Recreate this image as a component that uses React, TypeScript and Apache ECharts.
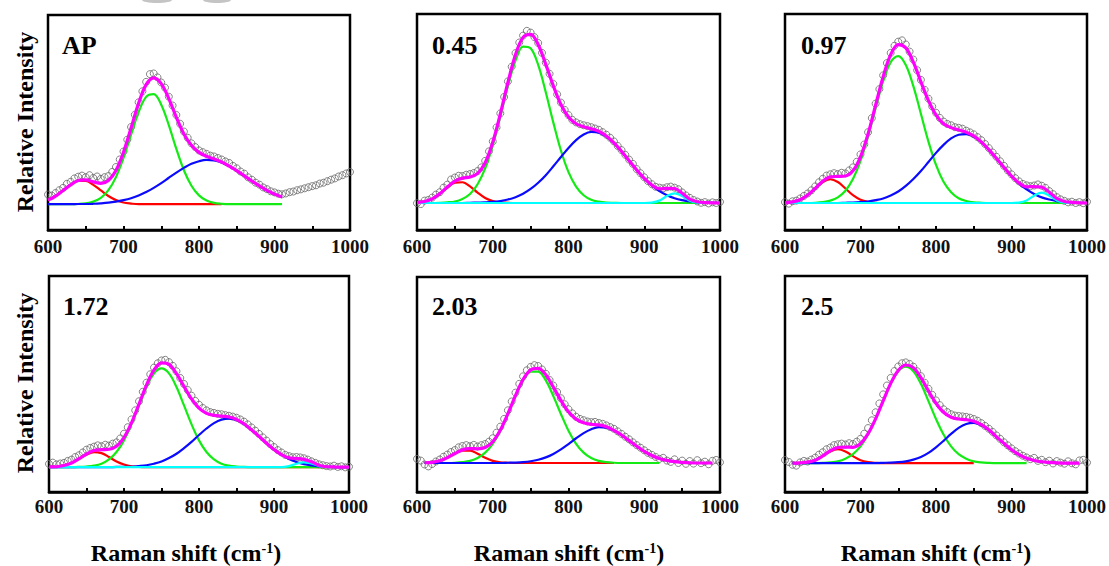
import React, { useEffect, useRef } from 'react';
import * as echarts from 'echarts';

const FONT = '"Liberation Serif", "Times New Roman", serif';

// sampling grids (cm-1)
const shift10 = Array.from({ length: 41 }, (_, i) => 600 + i * 10);
const shift5 = Array.from({ length: 81 }, (_, i) => 600 + i * 5);

const panelLabels = ['AP', '0.45', '0.97', '1.72', '2.03', '2.5'];
const xAxisTitle = 'Raman shift (cm';
const yAxisTitle = 'Relative Intensity';

// ---------- AP ----------
const apData = [
  16.5, 16.0, 17.2, 18.5, 19.6, 21.5, 22.4, 24.0, 24.8, 25.3,
  24.6, 25.5, 24.2, 24.9, 23.8, 24.6, 25.1, 27.0, 29.3, 32.8,
  36.5, 42.0, 47.9, 53.6, 59.4, 64.5, 68.9, 72.5, 72.8, 71.0,
  68.6, 66.2, 62.0, 57.9, 53.5, 49.4, 45.8, 42.9, 40.3, 38.6,
  37.0, 36.2, 35.4, 34.6, 34.2, 33.5, 32.8, 31.9, 31.2, 29.8,
  28.7, 27.2, 26.2, 24.5, 23.4, 22.0, 21.1, 19.8, 19.0, 18.0,
  17.5, 16.9, 16.6, 17.0, 17.6, 17.9, 18.5, 18.9, 19.4, 19.9,
  20.4, 20.8, 21.6, 22.0, 22.7, 23.4, 24.0, 24.9, 25.5, 26.3,
  27.0,
];
const apRed = [
  13.9, 15.8, 18.4, 21.0, 22.8, 22.8, 21.0, 18.4, 15.8, 13.9,
  12.8, 12.3, 12.0, 12.0, 12.0, 12.0, 12.0, 12.0, 12.0, 12.0,
  12.0, 12.0, 12.0, 12.0, null, null, null, null, null, null,
  null, null, null, null, null, null, null, null, null, null, null,
];
const apGreen = [
  12.0, 12.0, 12.0, 12.0, 12.1, 12.4, 13.2, 14.9, 18.5, 24.6,
  33.5, 44.3, 54.8, 61.9, 63.2, 58.3, 48.8, 37.7, 27.8, 20.6,
  16.1, 13.7, 12.6, 12.2, 12.0, 12.0, 12.0, 12.0, 12.0, 12.0,
  12.0, 12.0, null, null, null, null, null, null, null, null, null,
];
const apBlue = [
  12.0, 12.0, 12.0, 12.0, 12.1, 12.1, 12.2, 12.4, 12.7, 13.2,
  13.9, 14.8, 16.0, 17.7, 19.6, 21.8, 24.3, 26.7, 28.9, 30.8,
  32.0, 32.6, 32.4, 31.4, 29.7, 27.6, 25.2, 22.8, 20.5, 18.4,
  16.7, 15.3, null, null, null, null, null, null, null, null, null,
];
const apFit = [
  13.9, 15.8, 18.4, 21.0, 23.0, 23.3, 22.4, 21.7, 23.0, 27.7,
  36.2, 47.4, 58.9, 67.6, 70.8, 68.1, 61.1, 52.4, 44.7, 39.4,
  36.1, 34.3, 33.0, 31.6, 29.7, 27.6, 25.2, 22.8, 20.5, 18.4,
  16.7, 15.3, null, null, null, null, null, null, null, null, null,
];

// ---------- 0.45 ----------
const s045Data = [
  12.4, 12.0, 13.6, 13.9, 15.0, 16.4, 17.5, 19.6, 21.0, 23.4,
  24.3, 25.1, 25.0, 25.6, 25.9, 26.4, 27.3, 29.0, 32.0, 36.4,
  41.0, 47.5, 54.0, 61.6, 68.8, 75.6, 81.9, 86.8, 90.0, 92.2,
  91.4, 89.3, 86.6, 82.0, 77.5, 72.3, 67.6, 62.8, 59.0, 55.6,
  53.2, 51.0, 49.8, 49.0, 48.5, 48.1, 47.6, 47.0, 46.4, 45.3,
  44.1, 42.7, 41.0, 38.9, 37.0, 34.8, 32.6, 30.6, 28.2, 26.3,
  24.4, 22.6, 21.2, 20.0, 19.6, 19.3, 19.8, 20.1, 19.6, 18.9,
  17.4, 16.0, 14.9, 13.9, 13.2, 12.6, 12.9, 12.3, 12.8, 12.5,
  13.0,
];
const s045Red = [
  12.7, 13.2, 14.4, 16.7, 19.6, 21.9, 22.1, 20.2, 17.3, 14.8,
  13.4, 12.8, 12.6, 12.5, 12.5, 12.5, 12.5, 12.5, 12.5, 12.5,
  12.5, 12.5, 12.5, 12.5, 12.5, 12.5, 12.5, 12.5, 12.5, 12.5,
  12.5, 12.5, 12.5, 12.5, 12.5, 12.5, 12.5, 12.5, 12.5, 12.5, 12.5,
];
const s045Green = [
  12.5, 12.5, 12.5, 12.6, 12.8, 13.2, 14.4, 16.7, 21.2, 28.5,
  39.2, 52.5, 66.6, 78.4, 84.9, 84.1, 76.4, 63.8, 49.7, 36.8,
  26.8, 20.1, 16.1, 14.0, 13.1, 12.7, 12.6, 12.5, 12.5, 12.5,
  12.5, 12.5, 12.5, 12.5, 12.5, 12.5, 12.5, 12.5, 12.5, 12.5, 12.5,
];
const s045Blue = [
  12.5, 12.5, 12.5, 12.5, 12.5, 12.5, 12.5, 12.6, 12.7, 12.8,
  13.0, 13.4, 14.1, 15.2, 16.8, 19.0, 21.9, 25.4, 29.5, 33.8,
  38.0, 41.6, 44.2, 45.4, 45.1, 43.3, 40.3, 36.4, 32.1, 27.8,
  23.9, 20.6, 18.0, 16.1, 14.7, 13.8, 13.2, 12.9, 12.7, 12.6, 12.5,
];
const s045Cyan = [
  12.5, 12.5, 12.5, 12.5, 12.5, 12.5, 12.5, 12.5, 12.5, 12.5,
  12.5, 12.5, 12.5, 12.5, 12.5, 12.5, 12.5, 12.5, 12.5, 12.5,
  12.5, 12.5, 12.5, 12.5, 12.5, 12.5, 12.5, 12.5, 12.5, 12.5,
  12.5, 12.7, 13.6, 15.7, 17.0, 15.7, 13.6, 12.7, 12.5, 12.5, 12.5,
];
const s045Fit = [
  12.7, 13.2, 14.4, 16.8, 19.9, 22.6, 24.0, 24.5, 26.2, 31.1,
  40.6, 53.7, 68.3, 81.1, 89.2, 90.6, 85.8, 76.7, 66.7, 58.1,
  52.3, 49.2, 47.8, 46.9, 45.7, 43.5, 40.3, 36.4, 32.1, 27.8,
  23.9, 20.8, 19.1, 19.3, 19.2, 17.0, 14.3, 13.1, 12.7, 12.6, 12.5,
];

// ---------- 0.97 ----------
const s097Data = [
  12.9, 12.2, 13.3, 13.6, 14.6, 15.8, 16.9, 18.4, 20.2, 22.1,
  23.7, 25.2, 25.8, 26.3, 25.9, 26.5, 26.2, 27.6, 29.0, 31.6,
  35.0, 39.6, 45.3, 51.8, 58.5, 65.2, 71.6, 77.3, 82.0, 85.3,
  87.2, 87.8, 85.9, 82.6, 78.9, 74.0, 69.5, 64.9, 60.8, 57.2,
  54.3, 51.9, 50.2, 49.1, 48.5, 47.6, 47.3, 46.9, 46.0, 45.2,
  44.3, 43.0, 41.6, 39.8, 37.9, 35.9, 33.9, 31.8, 29.7, 27.6,
  25.8, 24.0, 22.5, 21.3, 20.7, 20.3, 20.6, 21.1, 20.5, 19.5,
  18.0, 16.6, 15.2, 14.2, 13.5, 12.8, 13.1, 12.5, 12.9, 12.4,
  13.1,
];
const s097Red = [
  12.6, 13.0, 14.0, 16.1, 19.2, 22.2, 23.5, 22.2, 19.2, 16.1,
  14.0, 13.0, 12.6, 12.5, 12.5, 12.5, 12.5, 12.5, 12.5, 12.5,
  12.5, 12.5, 12.5, 12.5, 12.5, 12.5, 12.5, 12.5, 12.5, 12.5,
  12.5, 12.5, 12.5, 12.5, 12.5, 12.5, 12.5, 12.5, 12.5, 12.5, 12.5,
];
const s097Green = [
  12.5, 12.5, 12.5, 12.5, 12.6, 12.9, 13.6, 15.1, 18.2, 23.6,
  32.0, 43.3, 56.4, 68.9, 77.7, 80.5, 76.4, 66.6, 53.8, 40.9,
  30.1, 22.3, 17.5, 14.7, 13.4, 12.8, 12.6, 12.5, 12.5, 12.5,
  12.5, 12.5, 12.5, 12.5, 12.5, 12.5, 12.5, 12.5, 12.5, 12.5, 12.5,
];
const s097Blue = [
  12.5, 12.5, 12.5, 12.5, 12.5, 12.5, 12.5, 12.5, 12.6, 12.7,
  12.9, 13.2, 13.8, 14.6, 16.0, 17.8, 20.4, 23.6, 27.3, 31.5,
  35.7, 39.4, 42.4, 44.1, 44.4, 43.3, 40.7, 37.2, 33.2, 29.0,
  25.0, 21.6, 18.8, 16.7, 15.1, 14.1, 13.4, 13.0, 12.8, 12.6, 12.5,
];
const s097Cyan = [
  12.5, 12.5, 12.5, 12.5, 12.5, 12.5, 12.5, 12.5, 12.5, 12.5,
  12.5, 12.5, 12.5, 12.5, 12.5, 12.5, 12.5, 12.5, 12.5, 12.5,
  12.5, 12.5, 12.5, 12.5, 12.5, 12.5, 12.5, 12.5, 12.5, 12.5,
  12.5, 12.7, 13.7, 15.9, 17.3, 15.9, 13.7, 12.7, 12.5, 12.5, 12.5,
];
const s097Fit = [
  12.6, 13.0, 14.0, 16.2, 19.3, 22.6, 24.6, 24.8, 25.0, 27.4,
  33.9, 44.5, 57.8, 71.0, 81.2, 85.8, 84.3, 77.7, 68.6, 59.9,
  53.3, 49.2, 47.4, 46.3, 45.3, 43.6, 40.8, 37.2, 33.2, 29.0,
  25.0, 21.8, 20.0, 20.1, 19.9, 17.5, 14.6, 13.2, 12.8, 12.6, 12.5,
];

// ---------- 1.72 ----------
const s172Data = [
  13.0, 13.6, 12.8, 13.2, 13.5, 14.4, 15.0, 16.2, 17.0, 18.3,
  19.6, 20.4, 21.0, 21.6, 21.2, 21.9, 21.5, 22.4, 23.0, 24.8,
  27.0, 30.0, 33.6, 37.8, 42.0, 46.4, 50.6, 54.5, 57.6, 59.6,
  60.9, 61.2, 60.1, 58.4, 55.9, 52.8, 50.0, 47.2, 44.6, 42.2,
  40.4, 38.9, 37.8, 37.0, 36.6, 36.2, 36.0, 35.6, 35.3, 34.9,
  34.4, 33.6, 32.6, 31.3, 29.9, 28.4, 26.9, 25.3, 23.8, 22.2,
  20.8, 19.4, 18.3, 17.2, 16.6, 16.1, 16.2, 16.0, 15.6, 15.0,
  14.2, 13.5, 12.8, 12.4, 12.0, 11.8, 12.2, 11.6, 11.9, 11.4,
  11.7,
];
const s172Red = [
  11.6, 11.7, 12.3, 13.4, 15.3, 17.3, 18.5, 18.0, 16.2, 14.1,
  12.7, 11.9, 11.6, 11.5, 11.5, 11.5, 11.5, 11.5, 11.5, 11.5,
  11.5, 11.5, 11.5, 11.5, 11.5, 11.5, 11.5, 11.5, 11.5, 11.5,
  11.5, 11.5, 11.5, 11.5, 11.5, 11.5, 11.5, 11.5, 11.5, 11.5, 11.5,
];
const s172Green = [
  11.5, 11.5, 11.5, 11.5, 11.6, 11.8, 12.2, 13.1, 15.1, 18.5,
  23.9, 31.4, 40.1, 48.6, 54.9, 57.2, 54.9, 48.6, 40.1, 31.4,
  23.9, 18.5, 15.1, 13.1, 12.2, 11.8, 11.6, 11.5, 11.5, 11.5,
  11.5, 11.5, 11.5, 11.5, 11.5, 11.5, 11.5, 11.5, 11.5, 11.5, 11.5,
];
const s172Blue = [
  11.5, 11.5, 11.5, 11.5, 11.5, 11.5, 11.5, 11.5, 11.5, 11.6,
  11.6, 11.7, 12.0, 12.4, 13.1, 14.1, 15.7, 17.7, 20.3, 23.2,
  26.4, 29.4, 31.9, 33.5, 34.0, 33.3, 31.5, 28.8, 25.8, 22.6,
  19.7, 17.3, 15.3, 13.9, 12.9, 12.3, 11.9, 11.7, 11.6, 11.5, 11.5,
];
const s172Cyan = [
  11.5, 11.5, 11.5, 11.5, 11.5, 11.5, 11.5, 11.5, 11.5, 11.5,
  11.5, 11.5, 11.5, 11.5, 11.5, 11.5, 11.5, 11.5, 11.5, 11.5,
  11.5, 11.5, 11.5, 11.5, 11.5, 11.5, 11.5, 11.5, 11.5, 11.5,
  11.5, 11.5, 12.0, 13.1, 13.7, 13.2, 12.0, 11.5, 11.5, 11.5, 11.5,
];
const s172Fit = [
  11.6, 11.7, 12.3, 13.4, 15.4, 17.6, 19.2, 19.6, 19.8, 21.2,
  25.2, 32.0, 40.7, 49.5, 56.5, 59.8, 59.1, 54.8, 48.9, 43.1,
  38.8, 36.4, 35.5, 35.1, 34.7, 33.6, 31.6, 28.8, 25.8, 22.6,
  19.7, 17.3, 15.8, 15.5, 15.1, 14.0, 12.4, 11.7, 11.6, 11.5, 11.5,
];

// ---------- 2.03 ----------
const s203Data = [
  15.4, 14.6, 12.8, 11.9, 13.0, 14.2, 15.1, 16.4, 17.4, 18.6,
  19.5, 20.8, 21.4, 21.8, 21.3, 21.9, 21.2, 21.8, 22.3, 23.4,
  25.0, 27.6, 30.4, 34.0, 38.0, 42.1, 46.2, 50.3, 53.8, 56.6,
  58.2, 59.0, 58.6, 57.0, 55.0, 52.1, 49.5, 46.5, 43.6, 40.8,
  38.5, 36.6, 35.0, 34.0, 33.4, 32.8, 32.5, 32.6, 32.1, 31.7,
  31.0, 30.2, 29.4, 28.2, 27.0, 25.7, 24.5, 23.1, 21.8, 20.6,
  19.4, 18.2, 17.3, 16.3, 15.4, 15.9, 14.6, 14.0, 15.2, 13.5,
  14.6, 13.1, 14.4, 13.2, 14.8, 13.4, 14.1, 12.9, 14.5, 14.9,
  13.8,
];
const s203Red = [
  null, 13.5, 13.8, 14.5, 15.9, 17.8, 19.2, 19.2, 17.8, 15.9,
  14.5, 13.8, 13.6, 13.5, 13.5, 13.5, 13.5, 13.5, 13.5, 13.5,
  13.5, 13.5, 13.5, 13.5, 13.5, 13.5, 13.5, null, null, null,
  null, null, null, null, null, null, null, null, null, null, null,
];
const s203Green = [
  null, 13.5, 13.5, 13.5, 13.5, 13.6, 13.9, 14.5, 15.8, 18.3,
  22.4, 28.5, 36.3, 44.6, 51.9, 56.0, 56.0, 51.9, 44.6, 36.3,
  28.5, 22.4, 18.3, 15.8, 14.5, 13.9, 13.6, 13.5, 13.5, 13.5,
  13.5, 13.5, 13.5, null, null, null, null, null, null, null, null,
];
const s203Blue = [
  null, 13.5, 13.5, 13.5, 13.5, 13.5, 13.5, 13.5, 13.5, 13.5,
  13.5, 13.5, 13.6, 13.7, 13.9, 14.3, 15.0, 16.1, 17.7, 19.8,
  22.3, 25.0, 27.4, 29.2, 30.2, 29.9, 28.6, 26.5, 23.9, 21.3,
  18.9, 17.0, 15.6, 14.7, 14.1, 13.8, 13.6, null, null, null, null,
];
const s203Fit = [
  null, 13.6, 13.8, 14.5, 16.0, 17.9, 19.6, 20.2, 20.1, 20.7,
  23.4, 28.8, 36.5, 44.8, 52.3, 56.8, 57.5, 54.5, 48.8, 42.6,
  37.3, 33.9, 32.2, 31.5, 31.2, 30.3, 28.7, 26.5, 23.9, 21.3,
  18.9, 17.0, 15.6, 14.7, 14.1, 13.8, 13.6, 13.5, 13.5, 13.5, null,
];

// ---------- 2.5 ----------
const s25Data = [
  14.8, 13.9, 12.6, 12.2, 13.7, 14.4, 14.1, 15.0, 15.9, 17.3,
  18.4, 19.8, 20.6, 21.7, 22.1, 22.4, 22.0, 22.6, 22.2, 23.3,
  24.6, 27.0, 29.6, 33.2, 36.9, 41.0, 45.2, 49.3, 52.8, 56.0,
  58.1, 59.6, 60.0, 59.3, 58.0, 55.9, 53.6, 50.6, 47.8, 45.0,
  42.4, 40.2, 38.3, 37.0, 36.0, 35.4, 35.2, 35.0, 34.8, 34.4,
  33.8, 33.0, 31.9, 30.6, 29.3, 27.8, 26.2, 24.6, 23.0, 21.6,
  20.2, 18.9, 17.8, 16.8, 16.0, 15.2, 15.8, 14.4, 14.9, 13.8,
  14.5, 13.2, 14.3, 13.6, 13.1, 14.2, 13.3, 12.8, 14.6, 14.9,
  13.6,
];
const s25Red = [
  null, 13.4, 13.5, 13.8, 14.7, 16.6, 18.8, 19.8, 18.8, 16.6,
  14.7, 13.8, 13.5, 13.4, 13.4, 13.4, 13.4, 13.4, 13.4, 13.4,
  13.4, 13.4, 13.4, 13.4, 13.4, 13.4, null, null, null, null,
  null, null, null, null, null, null, null, null, null, null, null,
];
const s25Green = [
  null, 13.4, 13.4, 13.4, 13.4, 13.5, 13.7, 14.2, 15.4, 17.5,
  21.1, 26.6, 33.8, 42.1, 50.1, 55.9, 58.0, 55.9, 50.1, 42.1,
  33.8, 26.6, 21.1, 17.5, 15.4, 14.2, 13.7, 13.5, 13.4, 13.4,
  13.4, 13.4, 13.4, null, null, null, null, null, null, null, null,
];
const s25Blue = [
  null, 13.4, 13.4, 13.4, 13.4, 13.4, 13.4, 13.4, 13.4, 13.4,
  13.4, 13.4, 13.4, 13.5, 13.6, 13.8, 14.2, 15.0, 16.2, 18.1,
  20.7, 23.7, 26.9, 29.7, 31.5, 32.0, 30.9, 28.7, 25.6, 22.5,
  19.6, 17.3, 15.6, 14.6, 14.0, 13.7, 13.5, null, null, null, null,
];
const s25Fit = [
  null, 13.4, 13.5, 13.8, 14.7, 16.7, 19.1, 20.6, 20.8, 20.7,
  22.4, 27.0, 33.9, 42.2, 50.3, 56.3, 58.8, 57.5, 52.9, 46.8,
  41.1, 36.9, 34.6, 33.8, 33.5, 32.8, 31.2, 28.8, 25.6, 22.5,
  19.6, 17.3, 15.6, 14.6, 14.0, 13.7, 13.5, 13.4, 13.4, 13.4, null,
];

const panels = [
  { data: apData, red: apRed, green: apGreen, blue: apBlue, cyan: null, fit: apFit },
  { data: s045Data, red: s045Red, green: s045Green, blue: s045Blue, cyan: s045Cyan, fit: s045Fit },
  { data: s097Data, red: s097Red, green: s097Green, blue: s097Blue, cyan: s097Cyan, fit: s097Fit },
  { data: s172Data, red: s172Red, green: s172Green, blue: s172Blue, cyan: s172Cyan, fit: s172Fit },
  { data: s203Data, red: s203Red, green: s203Green, blue: s203Blue, cyan: null, fit: s203Fit },
  { data: s25Data, red: s25Red, green: s25Green, blue: s25Blue, cyan: null, fit: s25Fit },
];

// layout (pixels)
const gridBoxes = [
  { left: 48, top: 15, width: 302, height: 215 },
  { left: 417, top: 14, width: 303, height: 216 },
  { left: 785, top: 14, width: 303, height: 216 },
  { left: 49, top: 276, width: 300, height: 216 },
  { left: 417, top: 277, width: 303, height: 215 },
  { left: 785, top: 276, width: 303, height: 216 },
];
const labelPos = [
  [62, 45], [432, 45], [801, 45],
  [63, 306], [432, 306], [801, 306],
];

const pairs = (xs: number[], ys: (number | null)[]) => xs.map((x, i) => [x, ys[i] == null ? null : ys[i]]);

function buildOption() {
  const grid: any[] = [];
  const xAxis: any[] = [];
  const yAxis: any[] = [];
  const series: any[] = [];
  gridBoxes.forEach((g, i) => {
    grid.push({ ...g, show: true, borderColor: '#000', borderWidth: 2.5, backgroundColor: 'transparent' });
    xAxis.push({
      gridIndex: i, type: 'value', min: 600, max: 1000, interval: 50,
      axisLine: { show: true, lineStyle: { color: '#000', width: 2.5 } },
      axisTick: { show: true, inside: true, length: 4, lineStyle: { color: '#000', width: 2 } },
      splitLine: { show: false },
      axisLabel: {
        color: '#111', fontFamily: FONT, fontWeight: 'bold', fontSize: 19, margin: i < 3 ? 7 : 5,
        formatter: (v: number) => (v % 100 === 0 ? String(v) : ''),
      },
    });
    yAxis.push({
      gridIndex: i, type: 'value', min: 0, max: 100,
      axisLine: { show: false }, axisTick: { show: false }, axisLabel: { show: false }, splitLine: { show: false },
    });
    const p = panels[i];
    const lineBase = {
      type: 'line', xAxisIndex: i, yAxisIndex: i, smooth: 0.35, showSymbol: false, symbol: 'none',
      connectNulls: false, silent: true,
    };
    series.push({
      type: 'scatter', xAxisIndex: i, yAxisIndex: i, silent: true,
      data: pairs(shift5, p.data), symbol: 'circle', symbolSize: 7,
      itemStyle: { color: 'rgba(255,255,255,0)', borderColor: '#666', borderWidth: 1 },
    });
    series.push({ ...lineBase, data: pairs(shift10, p.red), lineStyle: { color: '#ff0000', width: 2.2 } });
    series.push({ ...lineBase, data: pairs(shift10, p.green), lineStyle: { color: '#14eb14', width: 2.2 } });
    series.push({ ...lineBase, data: pairs(shift10, p.blue), lineStyle: { color: '#0a0aff', width: 2.2 } });
    if (p.cyan) {
      series.push({ ...lineBase, data: pairs(shift10, p.cyan), lineStyle: { color: '#00ffff', width: 2.2 } });
    }
    series.push({ ...lineBase, data: pairs(shift10, p.fit), lineStyle: { color: '#ff00ff', width: 3.2 } });
  });

  const graphic: any[] = [
    { type: 'ellipse', silent: true, shape: { cx: 157, cy: 0, rx: 15, ry: 3 }, style: { fill: '#c4c4c4' } },
    { type: 'ellipse', silent: true, shape: { cx: 217, cy: 0, rx: 14, ry: 3 }, style: { fill: '#c4c4c4' } },
  ];
  panelLabels.forEach((t, i) => {
    graphic.push({
      type: 'text', x: labelPos[i][0], y: labelPos[i][1], silent: true,
      style: { text: t, font: `bold 26px ${FONT}`, fill: '#000', textVerticalAlign: 'middle', verticalAlign: 'middle' },
    });
  });
  [122, 383].forEach((cy) => {
    graphic.push({
      type: 'text', x: 25, y: cy, rotation: Math.PI / 2, silent: true,
      style: {
        text: yAxisTitle, font: `bold 24px ${FONT}`, fill: '#000',
        textAlign: 'center', align: 'center', textVerticalAlign: 'middle', verticalAlign: 'middle',
      },
    });
  });
  [186, 569, 936].forEach((cx) => {
    graphic.push({
      type: 'text', x: cx, y: 553, silent: true,
      style: {
        text: `{a|${xAxisTitle}}{b|-1}{a|)}`, fill: '#000',
        textAlign: 'center', align: 'center', textVerticalAlign: 'middle', verticalAlign: 'middle',
        rich: {
          a: { font: `bold 24px ${FONT}`, fill: '#000', fontFamily: FONT, fontWeight: 'bold', fontSize: 24 },
          b: { font: `bold 14px ${FONT}`, fill: '#000', fontFamily: FONT, fontWeight: 'bold', fontSize: 14, verticalAlign: 'top' },
        },
      },
    });
  });

  return { animation: false, backgroundColor: '#fff', grid, xAxis, yAxis, series, graphic };
}

export default function App() {
  const ref = useRef<HTMLDivElement>(null);
  useEffect(() => {
    if (!ref.current) return;
    const chart = echarts.init(ref.current, null, { renderer: 'svg' });
    chart.setOption(buildOption() as any);
    return () => chart.dispose();
  }, []);
  return <div ref={ref} style={{ position: 'absolute', left: 0, top: 0, width: 1109, height: 566, background: '#fff' }} />;
}
